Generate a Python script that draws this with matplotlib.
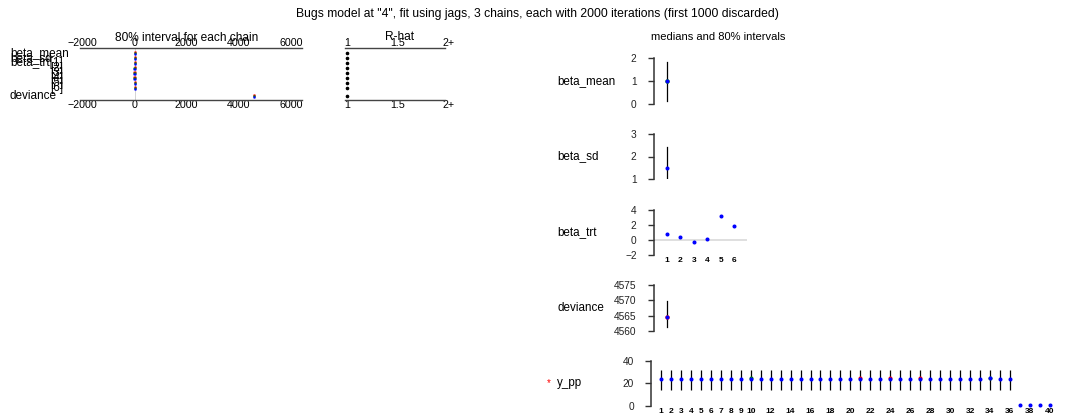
import numpy as np
import matplotlib
matplotlib.use("Agg")
import matplotlib.pyplot as plt
from matplotlib.transforms import blended_transform_factory

plt.rcParams['font.family'] = ['Liberation Sans', 'DejaVu Sans']

# ---- data ----
title = 'Bugs model at "4", fit using jags, 3 chains, each with 2000 iterations (first 1000 discarded)'

params = ['beta_mean', 'beta_sd', 'beta_trt[1]', '[2]', '[3]', '[4]', '[5]', '[6]', 'deviance']
# 80% intervals per chain (lo, hi), chains 1..3
chain_lo = [[0.15, 0.10, 0.20], [1.00, 1.02, 0.98], [-0.60, -0.50, -0.55], [-0.80, -0.90, -0.85],
            [-1.50, -1.40, -1.45], [-1.10, -1.20, -1.15], [1.80, 1.90, 1.85], [0.60, 0.50, 0.55],
            [4561.2, 4561.4, 4561.3]]
chain_hi = [[1.85, 1.80, 1.90], [2.40, 2.45, 2.42], [2.10, 2.00, 2.05], [1.80, 1.70, 1.75],
            [0.90, 1.00, 0.95], [1.30, 1.20, 1.25], [4.60, 4.50, 4.55], [3.10, 3.00, 3.05],
            [4569.6, 4569.8, 4569.7]]
rhat = [1.0, 1.0, 1.0, 1.0, 1.0, 1.0, 1.0, 1.0, 1.0]
chain_colors = ['red', 'green', 'blue']

beta_mean_med, beta_mean_lo, beta_mean_hi = 1.0, 0.13, 1.83
beta_sd_med, beta_sd_lo, beta_sd_hi = 1.48, 1.0, 2.43
beta_trt_med = [0.76, 0.45, -0.27, 0.09, 3.2, 1.82]
deviance_med, deviance_lo, deviance_hi = 4564.5, 4561.3, 4569.7

ypp_idx = list(range(1, 41))
ypp_med = [23.8, 23.8, 23.8, 23.8, 23.8, 23.8, 23.8, 23.8, 23.8, 23.8,
           23.8, 23.8, 23.8, 23.8, 23.8, 23.8, 23.8, 23.8, 23.8, 23.8,
           23.8, 23.8, 23.8, 23.8, 23.8, 23.8, 23.8, 23.8, 23.8, 23.8,
           23.8, 23.8, 23.8, 24.5, 23.8, 23.8, 1.0, 0.8, 1.0, 0.8]
ypp_lo = [14.1] * 36 + [0.5, 0.4, 0.5, 0.4]
ypp_hi = [31.7] * 36 + [1.5, 1.2, 1.5, 1.2]
ypp_red = {21: 24.9, 24: 24.9, 27: 24.9}
ypp_green = {10: 24.9, 34: 25.0}
ypp_ticks = list(range(1, 11)) + list(range(12, 37, 2)) + [38, 40]

# ---- figure ----
W, H = 1067, 413
fig = plt.figure(figsize=(W / 100, H / 100), dpi=100)


def px_axes(x0, y0, x1, y1):
    return fig.add_axes([x0 / W, 1 - y1 / H, (x1 - x0) / W, (y1 - y0) / H])


def ftext(x, y, s, **kw):
    fig.text(x / W, 1 - y / H, s, **kw)


ftext(537, 14, title, ha='center', va='center', fontsize=8.7)

# left: intervals per chain
rows = [0, 1, 2, 3, 4, 5, 6, 7, 8.6]
ax = px_axes(80, 47.5, 302, 100)
ax.set_xlim(-2090, 6420)
ax.set_ylim(9.4, -1.1)
for s in ['left', 'right']:
    ax.spines[s].set_visible(False)
for s in ['top', 'bottom']:
    ax.spines[s].set_color('#444444')
    ax.spines[s].set_linewidth(1.0)
ax.set_yticks([])
ax.set_xticks([-2000, 0, 2000, 4000, 6000])
ax.tick_params(axis='x', top=True, labeltop=True, length=0, pad=0, labelsize=7.7)
ax.axvline(0, color='#cccccc', lw=0.6, zorder=0)
for i, r in enumerate(rows):
    for c in range(3):
        yy = r + (c - 1) * 0.22
        ax.plot([chain_lo[i][c], chain_hi[i][c]], [yy, yy], color=chain_colors[c],
                lw=1.0, marker='s', ms=1.3, mew=0, clip_on=False)
trans = blended_transform_factory(fig.transFigure, ax.transData)
for i, (p, r) in enumerate(zip(params, rows)):
    if p.startswith('['):
        ax.text(63 / W, r, p, transform=trans, ha='right', va='center', fontsize=8.5, clip_on=False)
    else:
        ax.text(10 / W, r, p, transform=trans, ha='left', va='center', fontsize=8.5, clip_on=False)
ftext(187, 38, '80% interval for each chain', ha='center', va='center', fontsize=8.6)

# R-hat
ax = px_axes(345, 47.5, 453, 100)
ax.set_xlim(0.98, 2.04)
ax.set_ylim(9.4, -1.1)
for s in ['left', 'right']:
    ax.spines[s].set_visible(False)
for s in ['top', 'bottom']:
    ax.spines[s].set_color('#444444')
    ax.spines[s].set_linewidth(1.0)
    ax.spines[s].set_bounds(0.98, 1.96)
ax.set_yticks([])
ax.set_xticks([1, 1.5, 2])
ax.set_xticklabels(['1', '1.5', '2+'])
ax.tick_params(axis='x', top=True, labeltop=True, length=0, pad=0, labelsize=7.7)
ax.plot(rhat, rows, 'o', color='black', ms=1.6, clip_on=False)
ftext(400, 37, 'R-hat', ha='center', va='center', fontsize=8.6)

ftext(718, 37, 'medians and 80% intervals', ha='center', va='center', fontsize=8)


def right_axes(y0, y1, ymin, ymax, yticks, xmax, x0=653.6, unit=13.4):
    a = px_axes(x0, y0, x0 + xmax * unit, y1)
    a.set_xlim(0, xmax)
    a.set_ylim(ymin, ymax)
    for s in ['top', 'right', 'bottom']:
        a.spines[s].set_visible(False)
    a.spines['left'].set_color('#333333')
    a.spines['left'].set_linewidth(1.1)
    a.set_yticks(yticks)
    a.tick_params(axis='y', length=4.3, width=1.0, color='#333333', pad=8,
                  labelsize=7.3, labelcolor='#222222')
    a.set_xticks([])
    a.patch.set_visible(False)
    return a


def row_label(a, s):
    a.text(557 / W, 0.5, s, transform=blended_transform_factory(fig.transFigure, a.transAxes),
           ha='left', va='center', fontsize=8.4)


def bold_xlabels(a, ticks):
    a.set_xticks(ticks)
    a.tick_params(axis='x', length=0, pad=1.5, labelsize=6)
    for t in a.get_xticklabels():
        t.set_fontweight('bold')


# beta_mean
a = right_axes(58, 104, 0, 2, [0, 1, 2], 7)
row_label(a, 'beta_mean')
a.plot([1, 1], [beta_mean_lo, beta_mean_hi], color='black', lw=0.9)
a.plot([1], [beta_mean_med], 'o', color='green', ms=2.2)
a.plot([1], [beta_mean_med], 'o', color='blue', ms=1.9)

# beta_sd
a = right_axes(134, 179, 1, 3, [1, 2, 3], 7)
row_label(a, 'beta_sd')
a.plot([1, 1], [beta_sd_lo, beta_sd_hi], color='black', lw=0.9)
a.plot([1], [beta_sd_med], 'o', color='blue', ms=1.9)

# beta_trt
a = right_axes(210, 255, -2, 4, [-2, 0, 2, 4], 7)
row_label(a, 'beta_trt')
a.axhline(0, color='#d9d9d9', lw=1.2, zorder=0)
idx = list(range(1, len(beta_trt_med) + 1))
a.plot(idx, beta_trt_med, 'o', color='blue', ms=1.9, lw=0)
bold_xlabels(a, idx)

# deviance
a = right_axes(285, 331, 4560, 4575, [4560, 4565, 4570, 4575], 7)
row_label(a, 'deviance')
a.plot([1, 1], [deviance_lo, deviance_hi], color='black', lw=0.9)
a.plot([1], [deviance_med], 'o', color='red', ms=2.2)
a.plot([1], [deviance_med], 'o', color='blue', ms=1.9)

# y_pp
a = right_axes(360.7, 406, 0, 40, [0, 20, 40], 41, x0=651, unit=9.97)
row_label(a, 'y_pp')
ftext(549, 383, '*', ha='center', va='center', fontsize=7, color='red')
a.vlines(ypp_idx, ypp_lo, ypp_hi, color='black', lw=0.9)
a.plot(list(ypp_red.keys()), list(ypp_red.values()), 'o', color='red', ms=1.9, lw=0)
a.plot(list(ypp_green.keys()), list(ypp_green.values()), 'o', color='green', ms=1.9, lw=0)
a.plot(ypp_idx, ypp_med, 'o', color='blue', ms=1.9, lw=0, clip_on=False)
bold_xlabels(a, ypp_ticks)

fig.savefig('out.png', dpi=100)
